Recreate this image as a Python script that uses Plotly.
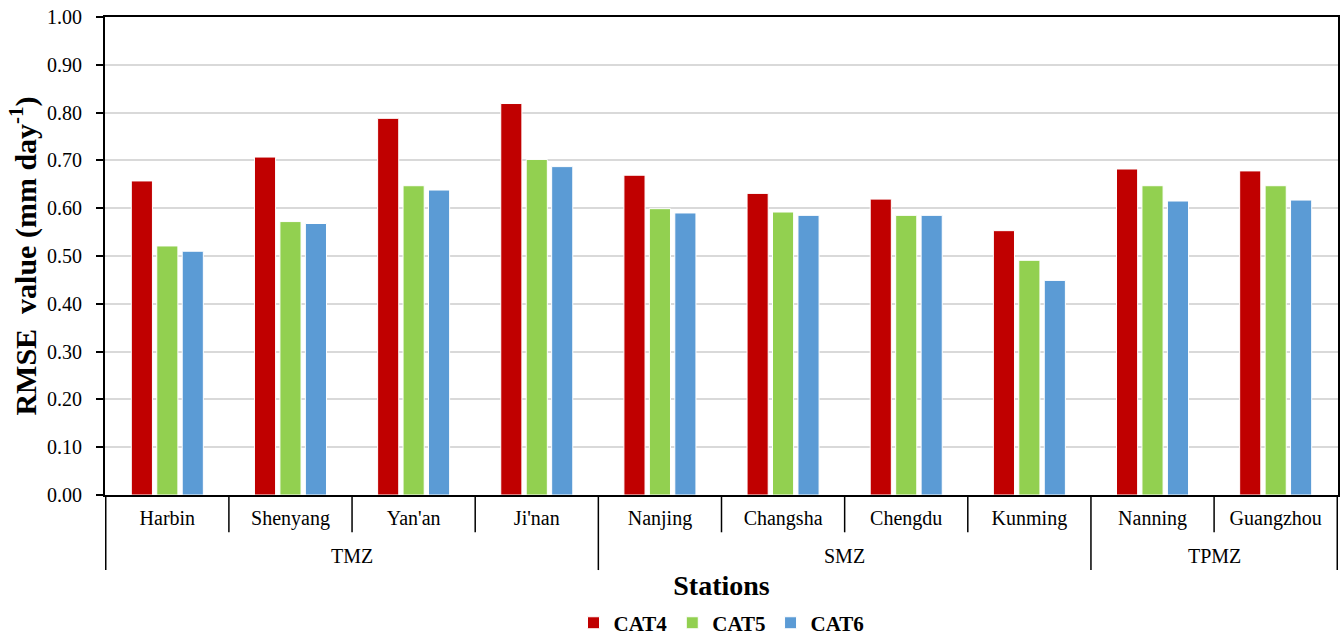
import plotly.graph_objects as go

stations = ["Harbin", "Shenyang", "Yan'an", "Ji'nan", "Nanjing", "Changsha",
            "Chengdu", "Kunming", "Nanning", "Guangzhou"]
zone_names = ["TMZ", "SMZ", "TPMZ"]
zone_sizes = [4, 4, 2]
cat4 = [0.657, 0.707, 0.788, 0.819, 0.669, 0.631, 0.619, 0.553, 0.682, 0.678]
cat5 = [0.521, 0.572, 0.647, 0.702, 0.599, 0.592, 0.585, 0.491, 0.647, 0.647]
cat6 = [0.510, 0.568, 0.638, 0.687, 0.590, 0.585, 0.585, 0.449, 0.615, 0.617]

series = [("CAT4", cat4, "#C00000"), ("CAT5", cat5, "#92D050"), ("CAT6", cat6, "#5B9BD5")]

font = "Liberation Serif"

fig = go.Figure()
for name, vals, color in series:
    fig.add_trace(go.Bar(
        x=stations, y=vals, name=name,
        marker=dict(color=color, line=dict(color="white", width=1)),
    ))

# station separators (short) and zone separators (long), below the axis
zone_bounds = [-0.5]
for s in zone_sizes:
    zone_bounds.append(zone_bounds[-1] + s)
shapes = []
for i in range(len(stations) + 1):
    b = i - 0.5
    long_line = b in zone_bounds
    shapes.append(dict(type="line", xref="x", yref="paper", x0=b, x1=b,
                       y0=0, y1=-0.157 if long_line else -0.078,
                       line=dict(color="black", width=1.5)))
annotations = []
for zname, lo, hi in zip(zone_names, zone_bounds[:-1], zone_bounds[1:]):
    annotations.append(dict(text=zname, xref="x", yref="paper", x=(lo + hi) / 2,
                            y=-0.128, showarrow=False, yanchor="middle",
                            font=dict(family=font, size=20, color="black")))

fig.update_layout(
    width=1343, height=638,
    margin=dict(l=105, r=5, t=17, b=143, autoexpand=False),
    paper_bgcolor="white", plot_bgcolor="white",
    barmode="group", bargap=0.38, bargroupgap=0.17,
    font=dict(family=font, size=20, color="black"),
    showlegend=True,
    legend=dict(orientation="h", x=0.5, xanchor="center", y=-0.268, yanchor="middle",
                font=dict(family=font, size=21, color="black", weight="bold"),
                itemwidth=30, tracegroupgap=0),
    shapes=shapes,
    annotations=annotations,
    xaxis=dict(
        type="category", automargin=False,
        showline=True, linecolor="black", linewidth=2, mirror=True,
        ticks="", ticklabelstandoff=4,
        tickfont=dict(family=font, size=20, color="black"),
        title=dict(text="<b>Stations</b>", font=dict(family=font, size=28, color="black"), standoff=46),
        showgrid=False,
    ),
    yaxis=dict(
        range=[0, 1.0], dtick=0.1, tickformat=".2f", automargin=False,
        showline=True, linecolor="black", linewidth=2, mirror=True,
        ticks="outside", ticklen=7, tickcolor="black", tickwidth=1.5,
        showgrid=True, gridcolor="#D9D9D9", gridwidth=1.5,
        ticklabelstandoff=10,
        tickfont=dict(family=font, size=20, color="black"),
        title=dict(text="<b>RMSE  value (mm day<sup>-1</sup>)</b>",
                   font=dict(family=font, size=30, color="black"), standoff=2),
        zeroline=False,
    ),
)

fig.write_html("out.html")
